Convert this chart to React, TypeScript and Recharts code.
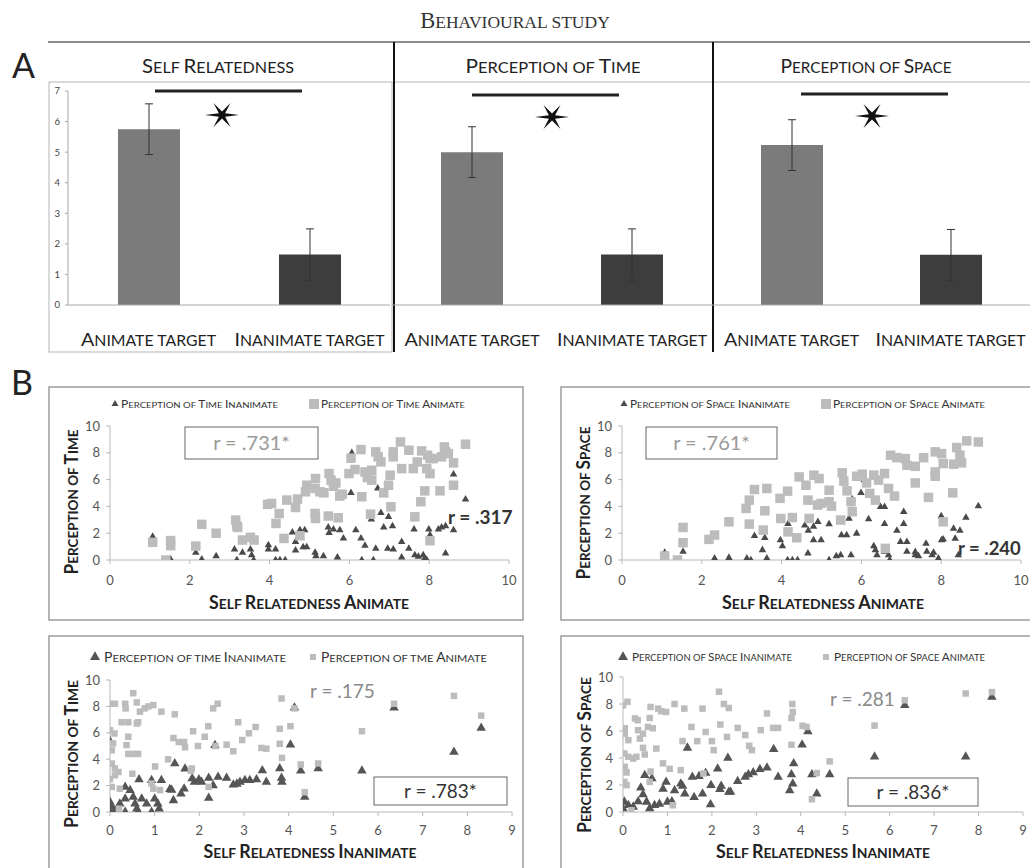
import React from 'react';
import { BarChart, Bar, Cell, XAxis, YAxis, ErrorBar, ScatterChart, Scatter } from 'recharts';

const FONT = 'Lato, "Open Sans", "DejaVu Sans", sans-serif';
const SERIF = '"Liberation Serif", "DejaVu Serif", serif';

// ---------- Panel A data ----------
const barCategories = ['Animate target', 'Inanimate target'];
const barCategoryWidths = [135, 150];
const selfRelMeans = [5.75, 1.65];
const selfRelErrors = [0.83, 0.84];
const timeMeans = [5.0, 1.65];
const timeErrors = [0.83, 0.84];
const spaceMeans = [5.23, 1.64];
const spaceErrors = [0.83, 0.83];
const barTicks = [0, 1, 2, 3, 4, 5, 6, 7];
const barColors = ['#7b7b7b', '#3d3d3d'];

// ---------- Panel B data ----------
const ticks0to10 = [0, 2, 4, 6, 8, 10];
const ticks0to9 = [0, 1, 2, 3, 4, 5, 6, 7, 8, 9];

// x: self relatedness animate, y: perception of time animate
const timeAnimateVsSelfAnimate = [
  [1.07, 1.32], [1.4, 0.0], [1.52, 1.45], [1.52, 1.07], [2.15, 1.04], [2.3, 2.66], [2.66, 2.0],
  [3.15, 2.98], [3.18, 2.53], [3.2, 2.43], [3.32, 1.49], [3.52, 1.69], [3.61, 1.49], [3.95, 4.15],
  [4.05, 4.22], [4.16, 2.73], [4.24, 3.47], [4.36, 1.61], [4.43, 4.47], [4.65, 3.92], [4.7, 4.55],
  [4.76, 1.81], [4.9, 5.09], [4.93, 5.58], [5.15, 6.08], [5.14, 5.34], [5.14, 3.47], [5.15, 3.1],
  [5.26, 5.09], [5.36, 5.01], [5.49, 6.45], [5.54, 5.96], [5.6, 5.5], [5.66, 5.75], [5.47, 3.28],
  [5.72, 3.15], [5.76, 4.77], [5.82, 4.91], [5.99, 6.45], [6.04, 7.6], [6.14, 6.75], [6.29, 8.24],
  [6.31, 4.72], [6.39, 6.57], [6.45, 6.15], [6.53, 3.42], [6.56, 6.7], [6.56, 5.96], [6.66, 8.07],
  [6.72, 7.7], [6.79, 7.32], [6.86, 5.01], [6.98, 5.58], [7.02, 6.33], [7.04, 3.97], [7.1, 8.07],
  [7.1, 7.7], [7.28, 8.81], [7.31, 6.82], [7.49, 8.19], [7.6, 6.82], [7.64, 3.22], [7.7, 7.32],
  [7.79, 4.35], [7.81, 8.14], [7.89, 5.16], [7.94, 6.82], [7.96, 7.82], [8.02, 6.45], [8.02, 1.44],
  [8.02, 7.57], [8.1, 7.57], [8.27, 5.16], [8.31, 7.7], [8.38, 8.44], [8.41, 8.07], [8.48, 7.94],
  [8.61, 7.25], [8.61, 5.58], [8.91, 8.64],
];
// x: self relatedness animate, y: perception of time inanimate
const timeInanimateVsSelfAnimate = [
  [1.07, 1.74], [1.52, 0.05], [2.15, 0.55], [2.3, 0.05], [2.66, 0.3], [3.12, 0.8], [3.18, 0.0],
  [3.32, 0.55], [3.52, 0.8], [3.55, 0.37], [3.6, 0.0], [3.97, 1.12], [3.97, 0.8], [4.15, 0.8],
  [4.15, 0.0], [4.26, 0.0], [4.39, 0.0], [4.57, 2.06], [4.65, 1.36], [4.76, 2.23], [4.84, 0.97],
  [4.88, 2.23], [4.93, 0.97], [4.65, 0.72], [5.14, 0.55], [5.16, 0.3], [5.35, 0.3], [5.47, 2.43],
  [5.49, 2.03], [5.6, 2.28], [5.76, 2.23], [5.85, 1.61], [5.7, 0.2], [6.04, 5.01], [6.06, 8.0],
  [6.16, 2.23], [6.29, 1.61], [6.31, 0.0], [6.39, 1.07], [6.6, 0.0], [6.55, 3.03], [6.66, 0.85],
  [6.71, 5.34], [6.79, 3.52], [6.86, 2.43], [6.98, 3.22], [7.08, 2.53], [6.96, 0.85], [7.1, 0.8],
  [7.31, 1.36], [7.31, 0.2], [7.49, 0.85], [7.62, 2.28], [7.64, 0.37], [7.73, 0.25], [7.85, 0.37],
  [7.89, 0.12], [7.94, 0.0], [7.99, 2.28], [8.02, 1.86], [8.23, 2.28], [8.31, 2.43], [8.41, 2.53],
  [8.41, 0.5], [8.61, 2.23], [8.61, 6.4], [8.91, 4.52],
];
// x: self relatedness animate, y: perception of space animate
const spaceAnimateVsSelfAnimate = [
  [1.07, 0.3], [1.39, 0.0], [1.53, 2.43], [1.53, 1.29], [2.18, 1.54], [2.32, 1.86], [2.68, 2.85],
  [3.11, 3.85], [3.19, 4.47], [3.32, 5.26], [3.19, 2.68], [3.54, 2.23], [3.58, 3.67], [3.63, 5.34],
  [3.96, 4.6], [3.98, 3.1], [4.15, 5.14], [4.16, 2.1], [4.27, 3.17], [4.38, 1.66], [4.44, 6.2],
  [4.61, 5.58], [4.66, 4.47], [4.69, 3.1], [4.81, 6.33], [4.9, 4.1], [4.94, 6.08], [4.99, 4.22],
  [5.19, 5.21], [5.19, 4.35], [5.25, 4.02], [5.48, 2.98], [5.52, 6.5], [5.56, 5.88], [5.64, 5.16],
  [5.74, 4.35], [5.77, 3.6], [5.88, 6.25], [6.02, 6.4], [6.13, 5.75], [6.21, 4.97], [6.31, 6.33],
  [6.35, 4.47], [6.43, 5.96], [6.58, 6.45], [6.6, 0.87], [6.68, 5.34], [6.83, 4.77], [6.73, 7.82],
  [6.89, 7.64], [7.1, 7.57], [7.14, 7.07], [7.35, 6.99], [7.35, 5.75], [7.56, 7.64], [7.68, 4.67],
  [7.85, 8.07], [7.85, 6.57], [7.85, 6.25], [8.01, 7.94], [8.05, 7.2], [8.05, 2.85], [8.29, 5.01],
  [8.31, 7.15], [8.39, 8.39], [8.47, 7.82], [8.51, 7.25], [8.64, 8.89], [8.93, 8.81],
];
// x: self relatedness animate, y: perception of space inanimate
const spaceInanimateVsSelfAnimate = [
  [1.07, 0.55], [1.53, 0.62], [2.32, 0.12], [2.68, 0.17], [3.13, 0.12], [3.23, 0.0], [3.32, 1.81],
  [3.52, 0.75], [3.58, 1.66], [3.63, 0.12], [3.97, 1.49], [4.02, 1.04], [4.16, 2.7], [4.15, 0.0],
  [4.27, 0.0], [4.4, 0.0], [4.58, 2.58], [4.66, 0.5], [4.67, 2.2], [4.8, 2.5], [4.8, 1.49],
  [4.91, 2.85], [4.99, 1.49], [5.19, 2.68], [5.19, 0.0], [5.37, 0.3], [5.48, 0.37], [5.5, 1.86],
  [5.63, 1.86], [5.69, 3.1], [5.74, 0.37], [5.77, 4.52], [5.88, 1.98], [5.99, 5.01], [6.07, 5.96],
  [6.18, 3.05], [6.31, 1.04], [6.35, 0.75], [6.39, 0.37], [6.48, 3.97], [6.58, 3.97], [6.58, 2.7],
  [6.58, 0.62], [6.68, 0.37], [6.71, 0.0], [6.89, 2.2], [6.98, 1.36], [7.06, 3.6], [7.06, 2.7],
  [7.14, 0.62], [7.14, 1.36], [7.35, 0.37], [7.35, 0.6], [7.43, 0.3], [7.62, 1.23], [7.64, 0.62],
  [7.77, 0.37], [7.81, 0.55], [7.93, 0.12], [8.01, 1.49], [8.05, 1.54], [8.0, 3.27], [8.31, 2.35],
  [8.35, 1.6], [8.47, 2.2], [8.43, 0.37], [8.62, 3.17], [8.93, 4.02],
];
// x: self relatedness inanimate, y: perception of time animate
const timeAnimateVsSelfInanimate = [
  [0.0, 8.2], [0.11, 8.2], [0.0, 6.2], [0.1, 5.95], [0.07, 5.2], [0.04, 4.67], [0.04, 3.67],
  [0.11, 3.3], [0.11, 2.78], [0.19, 3.03], [0.0, 2.5], [0.04, 1.9], [0.22, 1.77], [0.2, 0.25],
  [0.34, 8.2], [0.35, 7.85], [0.26, 6.8], [0.41, 6.8], [0.52, 9.0], [0.6, 8.3], [0.63, 6.8],
  [0.6, 6.7], [0.41, 5.7], [0.37, 5.07], [0.41, 4.4], [0.52, 4.4], [0.63, 4.4], [0.5, 2.9],
  [0.67, 7.6], [0.78, 7.85], [0.86, 8.0], [0.97, 8.1], [1.15, 7.6], [1.45, 7.4], [1.01, 3.45],
  [0.97, 1.77], [1.12, 1.66], [0.93, 2.16], [1.3, 3.99], [1.42, 5.6], [1.54, 5.3], [1.66, 5.3],
  [1.68, 4.9], [1.83, 3.3], [1.86, 6.12], [1.97, 5.0], [2.12, 5.7], [2.2, 6.5], [2.21, 1.9],
  [2.31, 7.85], [2.41, 8.2], [2.36, 5.0], [2.61, 5.1], [2.76, 4.6], [2.87, 6.8], [2.96, 5.45],
  [3.11, 5.96], [3.26, 6.44], [3.39, 4.85], [3.5, 4.8], [3.84, 8.6], [3.8, 6.3], [3.8, 5.17],
  [3.85, 4.1], [4.04, 6.5], [4.13, 7.85], [4.27, 3.6], [4.36, 1.5], [4.66, 3.68], [5.64, 6.12],
  [6.36, 8.2], [7.7, 8.8], [8.31, 7.3], [1.81, 3.12],
];
// x: self relatedness inanimate, y: perception of time inanimate
const timeInanimateVsSelfInanimate = [
  [0.0, 5.35], [0.0, 0.76], [0.04, 0.38], [0.11, 0.13], [0.22, 0.63], [0.34, 1.9], [0.45, 1.64],
  [0.34, 1.0], [0.52, 1.14], [0.56, 0.63], [0.6, 0.25], [0.65, 2.46], [0.71, 1.0], [0.82, 0.63],
  [0.93, 2.4], [1.0, 1.0], [1.07, 0.63], [1.1, 0.25], [1.15, 2.4], [1.34, 1.72], [1.38, 1.66],
  [1.45, 3.67], [1.42, 0.88], [1.59, 1.39], [1.68, 3.27], [1.66, 1.77], [1.84, 2.53], [1.89, 2.27],
  [1.99, 2.46], [2.05, 2.27], [2.21, 2.58], [2.21, 1.06], [2.31, 2.0], [2.35, 5.05], [2.42, 2.65],
  [2.61, 2.58], [2.76, 2.06], [2.84, 2.13], [2.91, 2.27], [3.02, 2.4], [3.13, 2.4], [3.28, 2.46],
  [3.41, 3.14], [3.5, 2.27], [3.8, 3.3], [3.84, 2.58], [3.85, 2.27], [4.04, 5.1], [4.13, 7.9],
  [4.27, 3.12], [4.36, 1.14], [4.66, 3.3], [5.64, 3.12], [6.36, 7.9], [7.7, 4.55], [8.31, 6.37],
  [0.0, 0.0], [0.34, 0.0], [0.63, 0.0], [0.93, 0.0],
];
// x: self relatedness inanimate, y: perception of space animate
const spaceAnimateVsSelfInanimate = [
  [0.0, 7.9], [0.1, 8.16], [0.04, 6.2], [0.04, 5.8], [0.12, 5.32], [0.03, 4.33], [0.12, 4.09],
  [0.04, 3.35], [0.08, 2.93], [0.03, 2.23], [0.08, 1.99], [0.23, 3.96], [0.19, 0.13], [0.27, 6.93],
  [0.33, 6.8], [0.34, 6.06], [0.38, 5.44], [0.45, 5.8], [0.45, 4.75], [0.49, 4.26], [0.3, 4.09],
  [0.56, 6.3], [0.6, 6.96], [0.62, 7.78], [0.6, 2.23], [0.62, 3.0], [0.67, 6.2], [0.75, 4.7],
  [0.79, 7.66], [0.86, 7.46], [0.97, 7.41], [0.9, 3.6], [1.05, 3.2], [1.12, 0.5], [1.16, 8.0],
  [1.38, 7.66], [1.3, 3.1], [1.34, 5.25], [1.54, 6.3], [1.67, 5.25], [1.79, 7.66], [1.81, 2.85],
  [1.86, 5.93], [2.0, 5.25], [2.04, 4.58], [2.16, 8.91], [2.19, 6.48], [2.27, 8.0], [2.38, 7.7],
  [2.34, 5.56], [2.58, 6.23], [2.75, 5.7], [2.84, 4.9], [2.9, 4.58], [3.1, 6.06], [3.24, 7.3],
  [3.38, 6.23], [3.49, 6.23], [3.81, 8.0], [3.82, 7.41], [3.79, 6.96], [3.79, 4.98], [4.04, 6.38],
  [4.13, 6.3], [4.25, 0.94], [4.36, 2.88], [4.65, 3.75], [5.66, 6.4], [6.34, 8.28], [7.71, 8.78],
  [8.3, 8.88],
];
// x: self relatedness inanimate, y: perception of space inanimate
const spaceInanimateVsSelfInanimate = [
  [0.03, 0.75], [0.0, 0.26], [0.12, 0.5], [0.23, 0.38], [0.34, 0.78], [0.4, 1.8], [0.45, 1.3],
  [0.49, 2.73], [0.53, 0.75], [0.6, 0.26], [0.65, 2.48], [0.71, 0.5], [0.82, 0.6], [0.9, 1.7],
  [0.97, 2.23], [1.0, 0.75], [1.1, 0.78], [1.16, 1.6], [1.3, 2.1], [1.34, 1.93], [1.39, 1.36],
  [1.45, 4.75], [1.6, 1.1], [1.56, 2.6], [1.71, 2.64], [1.79, 1.36], [1.86, 2.89], [1.97, 0.56],
  [1.98, 1.98], [2.13, 3.2], [2.18, 1.69], [2.21, 1.93], [2.36, 4.0], [2.38, 1.49], [2.42, 1.49],
  [2.58, 2.28], [2.75, 2.6], [2.82, 2.77], [2.93, 2.93], [3.08, 3.17], [3.24, 3.27], [3.39, 4.65],
  [3.49, 2.6], [3.79, 2.77], [3.82, 2.1], [3.84, 3.6], [3.75, 1.6], [4.03, 4.98], [4.16, 5.96],
  [4.25, 2.77], [4.36, 1.36], [4.65, 2.77], [5.66, 4.09], [6.34, 7.9], [7.71, 4.09], [8.3, 8.52],
];

const toPoints = (pairs: number[][]) => pairs.map(([x, y]) => ({ x, y }));

// small caps drawn with tspans: capitals at full size, lowercase as smaller capitals
const smallCaps = (text: string, big: number, small: number) => {
  const parts: { t: string; s: number }[] = [];
  for (const ch of text) {
    const lower = ch !== ch.toUpperCase() || ch === ' ';
    const s = lower ? small : big;
    const t = ch.toUpperCase();
    if (parts.length && parts[parts.length - 1].s === s) parts[parts.length - 1].t += t;
    else parts.push({ t, s });
  }
  return parts.map((p, i) => (
    <tspan key={i} fontSize={p.s}>
      {p.t}
    </tspan>
  ));
};

// ---------- shapes ----------
const squareShape = (size: number, fill: string) => (props: any) => {
  const { cx, cy } = props;
  if (cx == null || cy == null) return <g />;
  return <rect x={cx - size / 2} y={cy - size / 2} width={size} height={size} fill={fill} />;
};
const triangleShape = (w: number, fill: string) => (props: any) => {
  const { cx, cy } = props;
  if (cx == null || cy == null) return <g />;
  const h = w * 0.87;
  return (
    <polygon
      points={`${cx},${cy - (h * 2) / 3} ${cx - w / 2},${cy + h / 3} ${cx + w / 2},${cy + h / 3}`}
      fill={fill}
    />
  );
};

// ---------- labels ----------
const AxisTitle = (props: any) => {
  const { caption, px, py, rotate, len } = props;
  return (
    <text
      x={px}
      y={py}
      textAnchor="middle"
      transform={rotate ? `rotate(-90 ${px} ${py})` : undefined}
      fontFamily={FONT}
      fontWeight={700}
      fill="#222"
      textLength={len}
      lengthAdjust="spacingAndGlyphs"
    >
      {smallCaps(caption, 18, 14)}
    </text>
  );
};

const CategoryTick = (props: any) => {
  const { x, y, payload, index } = props;
  return (
    <text
      x={x}
      y={y + 41}
      textAnchor="middle"
      fontFamily={FONT}
      fill="#1e1e1e"
      textLength={barCategoryWidths[index] || 140}
      lengthAdjust="spacingAndGlyphs"
    >
      {smallCaps(String(payload.value), 18, 14.5)}
    </text>
  );
};

// ---------- Bar panel ----------
function BarPanel(p: {
  left: number;
  width: number;
  means: number[];
  errors: number[];
  showY: boolean;
  ml: number;
  mr: number;
}) {
  const data = barCategories.map((c, i) => ({ category: c, mean: p.means[i], err: p.errors[i] }));
  return (
    <div style={{ position: 'absolute', left: p.left, top: 80 }}>
      <BarChart width={p.width} height={280} data={data} margin={{ top: 11, right: p.mr, bottom: 10, left: p.ml }}>
        <XAxis
          dataKey="category"
          axisLine={{ stroke: '#a8a8a8' }}
          tickLine={false}
          tickSize={0}
          tickMargin={0}
          height={45}
          interval={0}
          tick={<CategoryTick />}
        />
        <YAxis
          domain={[0, 7]}
          ticks={barTicks}
          interval={0}
          width={20}
          hide={!p.showY}
          axisLine={{ stroke: '#a8a8a8' }}
          tickLine={{ stroke: '#a8a8a8' }}
          tickSize={3}
          tickMargin={5}
          tick={{ fontSize: 9.5, fill: '#444', fontFamily: FONT }}
        />
        <Bar dataKey="mean" barSize={62} isAnimationActive={false}>
          {data.map((d, i) => (
            <Cell key={d.category} fill={barColors[i]} />
          ))}
          <ErrorBar dataKey="err" width={4} stroke="#333" strokeWidth={1} />
        </Bar>
      </BarChart>
    </div>
  );
}

// ---------- Scatter panel ----------
function ScatterPanel(p: {
  left: number;
  top: number;
  height: number;
  mTop: number;
  mRight: number;
  yAxisWidth: number;
  xAxisHeight: number;
  xDomain: number[];
  xTicks: number[];
  xTickMargin: number;
  squares: number[][];
  triangles: number[][];
  sqSize: number;
  triW: number;
  triFill: string;
  xTitle: string;
  yTitle: string;
  xT: number[];
  yT: number[];
}) {
  const axisStyle = { stroke: '#b8b8b8' };
  return (
    <div style={{ position: 'absolute', left: p.left, top: p.top }}>
      <ScatterChart width={475} height={p.height} margin={{ top: p.mTop, right: p.mRight, bottom: 0, left: 0 }}>
        <XAxis
          type="number"
          dataKey="x"
          domain={p.xDomain}
          ticks={p.xTicks}
          interval={0}
          allowDataOverflow
          height={p.xAxisHeight}
          axisLine={axisStyle}
          tickLine={axisStyle}
          tickSize={4}
          tickMargin={p.xTickMargin}
          tick={{ fontSize: 13, fill: '#555', fontFamily: FONT }}
          label={<AxisTitle caption={p.xTitle} px={p.xT[0]} py={p.xT[1]} len={p.xT[2]} />}
        />
        <YAxis
          type="number"
          dataKey="y"
          domain={[0, 10]}
          ticks={ticks0to10}
          interval={0}
          allowDataOverflow
          width={p.yAxisWidth}
          axisLine={axisStyle}
          tickLine={axisStyle}
          tickSize={4}
          tickMargin={6}
          tick={{ fontSize: 13, fill: '#555', fontFamily: FONT }}
          label={<AxisTitle caption={p.yTitle} px={p.yT[0]} py={p.yT[1]} len={p.yT[2]} rotate />}
        />
        <Scatter data={toPoints(p.triangles)} shape={triangleShape(p.triW, p.triFill)} isAnimationActive={false} />
        <Scatter data={toPoints(p.squares)} shape={squareShape(p.sqSize, '#bcbcbc')} isAnimationActive={false} />
      </ScatterChart>
    </div>
  );
}

const star = (cx: number, cy: number) => {
  const pts: string[] = [];
  for (let i = 0; i < 12; i++) {
    const a = (i * Math.PI) / 6;
    const outer = i % 2 === 0;
    const rx = outer ? 17 : 3.6;
    const ry = outer ? 14 : 3.6;
    pts.push(`${(cx + rx * Math.cos(a)).toFixed(1)},${(cy - ry * Math.sin(a)).toFixed(1)}`);
  }
  return <polygon points={pts.join(' ')} fill="#111" />;
};

const LegendItem = (p: {
  kind: 'tri' | 'sq';
  mx: number;
  my: number;
  size: number;
  text: string;
  tx: number;
  len: number;
  fs: number;
  fill: string;
}) => (
  <g>
    {p.kind === 'tri' ? (
      <polygon
        points={`${p.mx},${p.my - p.size * 0.58} ${p.mx - p.size / 2},${p.my + p.size * 0.29} ${p.mx + p.size / 2},${p.my + p.size * 0.29}`}
        fill={p.fill}
      />
    ) : (
      <rect x={p.mx - p.size / 2} y={p.my - p.size / 2} width={p.size} height={p.size} fill={p.fill} />
    )}
    <text x={p.tx} y={p.my + p.fs * 0.36} fontFamily={FONT} fill="#333" textLength={p.len} lengthAdjust="spacingAndGlyphs">
      {smallCaps(p.text, p.fs, p.fs * 0.8)}
    </text>
  </g>
);

const Header = (p: { x: number; text: string; len: number }) => (
  <text x={p.x} y={73} textAnchor="middle" fontFamily={FONT} fill="#222" textLength={p.len} lengthAdjust="spacingAndGlyphs">
    {smallCaps(p.text, 19, 15)}
  </text>
);

export default function App() {
  const boxStroke = '#9c9c9c';
  return (
    <div style={{ position: 'absolute', left: 0, top: 0, width: 1030, height: 868, overflow: 'hidden', background: '#fff' }}>
      <svg width={1030} height={868} style={{ position: 'absolute', left: 0, top: 0 }}>
        <line x1={48} y1={42} x2={1030} y2={42} stroke="#8c8c8c" strokeWidth={2} />
        <rect x={49} y={82} width={343} height={270} fill="none" stroke="#b5b5b5" strokeWidth={1} />
        <line x1={395} y1={82} x2={1030} y2={82} stroke="#b5b5b5" strokeWidth={1} />
        <line x1={394} y1={42} x2={394} y2={352} stroke="#111" strokeWidth={2} />
        <line x1={713} y1={42} x2={713} y2={352} stroke="#111" strokeWidth={2} />
        <rect x={49} y={387} width={474} height={233} fill="none" stroke={boxStroke} strokeWidth={1.5} />
        <rect x={561} y={387} width={480} height={233} fill="none" stroke={boxStroke} strokeWidth={1.5} />
        <rect x={49} y={636} width={474} height={240} fill="none" stroke={boxStroke} strokeWidth={1.5} />
        <rect x={561} y={636} width={480} height={240} fill="none" stroke={boxStroke} strokeWidth={1.5} />
      </svg>

      <BarPanel left={40} width={360} means={selfRelMeans} errors={selfRelErrors} showY ml={8} mr={10} />
      <BarPanel left={388} width={330} means={timeMeans} errors={timeErrors} showY={false} ml={4} mr={6} />
      <BarPanel left={708} width={330} means={spaceMeans} errors={spaceErrors} showY={false} ml={4} mr={8} />

      <ScatterPanel
        left={48} top={387} height={233} mTop={39} mRight={14} yAxisWidth={62} xAxisHeight={60}
        xDomain={[0, 10]} xTicks={ticks0to10} xTickMargin={12}
        squares={timeAnimateVsSelfAnimate} triangles={timeInanimateVsSelfAnimate}
        sqSize={9.5} triW={7.5} triFill="#4a4a4a"
        xTitle="Self Relatedness Animate" yTitle="Perception of Time"
        xT={[261, 222, 200]} yT={[30, 115, 145]}
      />
      <ScatterPanel
        left={561} top={387} height={233} mTop={39} mRight={15} yAxisWidth={61} xAxisHeight={60}
        xDomain={[0, 10]} xTicks={ticks0to10} xTickMargin={12}
        squares={spaceAnimateVsSelfAnimate} triangles={spaceInanimateVsSelfAnimate}
        sqSize={9.5} triW={7.5} triFill="#4a4a4a"
        xTitle="Self Relatedness Animate" yTitle="Perception of Space"
        xT={[262, 222, 202]} yT={[29, 116, 153]}
      />
      <ScatterPanel
        left={48} top={636} height={232} mTop={44} mRight={11} yAxisWidth={62} xAxisHeight={56}
        xDomain={[0, 9]} xTicks={ticks0to9} xTickMargin={10}
        squares={timeAnimateVsSelfInanimate} triangles={timeInanimateVsSelfInanimate}
        sqSize={6.5} triW={9.5} triFill="#555"
        xTitle="Self Relatedness Inanimate" yTitle="Perception of Time"
        xT={[262, 222, 213]} yT={[30, 118, 148]}
      />
      <ScatterPanel
        left={561} top={636} height={232} mTop={41} mRight={13} yAxisWidth={62} xAxisHeight={56}
        xDomain={[0, 9]} xTicks={ticks0to9} xTickMargin={10}
        squares={spaceAnimateVsSelfInanimate} triangles={spaceInanimateVsSelfInanimate}
        sqSize={6.5} triW={9.5} triFill="#555"
        xTitle="Self Relatedness Inanimate" yTitle="Perception of Space"
        xT={[262, 222, 214]} yT={[30, 119, 156]}
      />

      <svg width={1030} height={868} style={{ position: 'absolute', left: 0, top: 0, pointerEvents: 'none' }}>
        <text x={515} y={28} textAnchor="middle" fontFamily={SERIF} fill="#333">
          {smallCaps('Behavioural study', 22.5, 17.5)}
        </text>
        <text x={12} y={78} fontFamily={FONT} fontSize={34} fill="#222">A</text>
        <text x={11} y={395} fontFamily={FONT} fontSize={34} fill="#222">B</text>

        <Header x={218} text="Self Relatedness" len={152} />
        <Header x={553} text="Perception of Time" len={175} />
        <Header x={866} text="Perception of Space" len={171} />

        <line x1={155} y1={91} x2={302} y2={91} stroke="#222" strokeWidth={3} />
        <line x1={472} y1={95} x2={619} y2={95} stroke="#222" strokeWidth={3} />
        <line x1={801} y1={94} x2={948} y2={94} stroke="#222" strokeWidth={3} />
        {star(222, 115)}
        {star(552, 117)}
        {star(872, 116)}

        <LegendItem kind="tri" mx={115} my={404} size={7} text="Perception of Time Inanimate" tx={121} len={157} fs={10.5} fill="#4a4a4a" />
        <LegendItem kind="sq" mx={314} my={404} size={10} text="Perception of Time Animate" tx={321} len={144} fs={10.5} fill="#bcbcbc" />
        <LegendItem kind="tri" mx={624} my={404} size={7} text="Perception of Space Inanimate" tx={630} len={160} fs={10.5} fill="#4a4a4a" />
        <LegendItem kind="sq" mx={826} my={404} size={10} text="Perception of Space Animate" tx={833} len={152} fs={10.5} fill="#bcbcbc" />
        <LegendItem kind="tri" mx={95} my={657} size={10} text="Perception of time Inanimate" tx={104} len={182} fs={12.5} fill="#555" />
        <LegendItem kind="sq" mx={313} my={657} size={6} text="Perception of tme Animate" tx={321} len={166} fs={12.5} fill="#bcbcbc" />
        <LegendItem kind="tri" mx={623} my={657} size={10} text="Perception of Space Inanimate" tx={632} len={160} fs={11.5} fill="#555" />
        <LegendItem kind="sq" mx={826} my={657} size={6} text="Perception of Space Animate" tx={834} len={151} fs={11.5} fill="#bcbcbc" />

        <rect x={185} y={427} width={133} height={32} fill="#fff" stroke="#666" strokeWidth={1} />
        <text x={251.5} y={450} textAnchor="middle" fontFamily={FONT} fontSize={20} fill="#999">r = .731*</text>
        <rect x={646} y={427} width={131} height={32} fill="#fff" stroke="#666" strokeWidth={1} />
        <text x={711.5} y={450} textAnchor="middle" fontFamily={FONT} fontSize={20} fill="#999">r = .761*</text>
        <text x={448} y={524} fontFamily={FONT} fontSize={19} fontWeight={700} fill="#333">r = .317</text>
        <text x={958} y={555} fontFamily={FONT} fontSize={18.5} fontWeight={700} fill="#333">r = .240</text>

        <text x={310} y={698} fontFamily={FONT} fontSize={19} fill="#8a8a8a">r = .175</text>
        <rect x={374} y={777} width={133} height={28} fill="#fff" stroke="#666" strokeWidth={1} />
        <text x={440.5} y={798} textAnchor="middle" fontFamily={FONT} fontSize={19} fill="#333">r = .783*</text>
        <text x={830} y={706} fontFamily={FONT} fontSize={19} fill="#8a8a8a">r = .281</text>
        <rect x={848} y={778} width={130} height={28} fill="#fff" stroke="#666" strokeWidth={1} />
        <text x={913} y={799} textAnchor="middle" fontFamily={FONT} fontSize={19} fill="#333">r = .836*</text>
      </svg>
    </div>
  );
}
